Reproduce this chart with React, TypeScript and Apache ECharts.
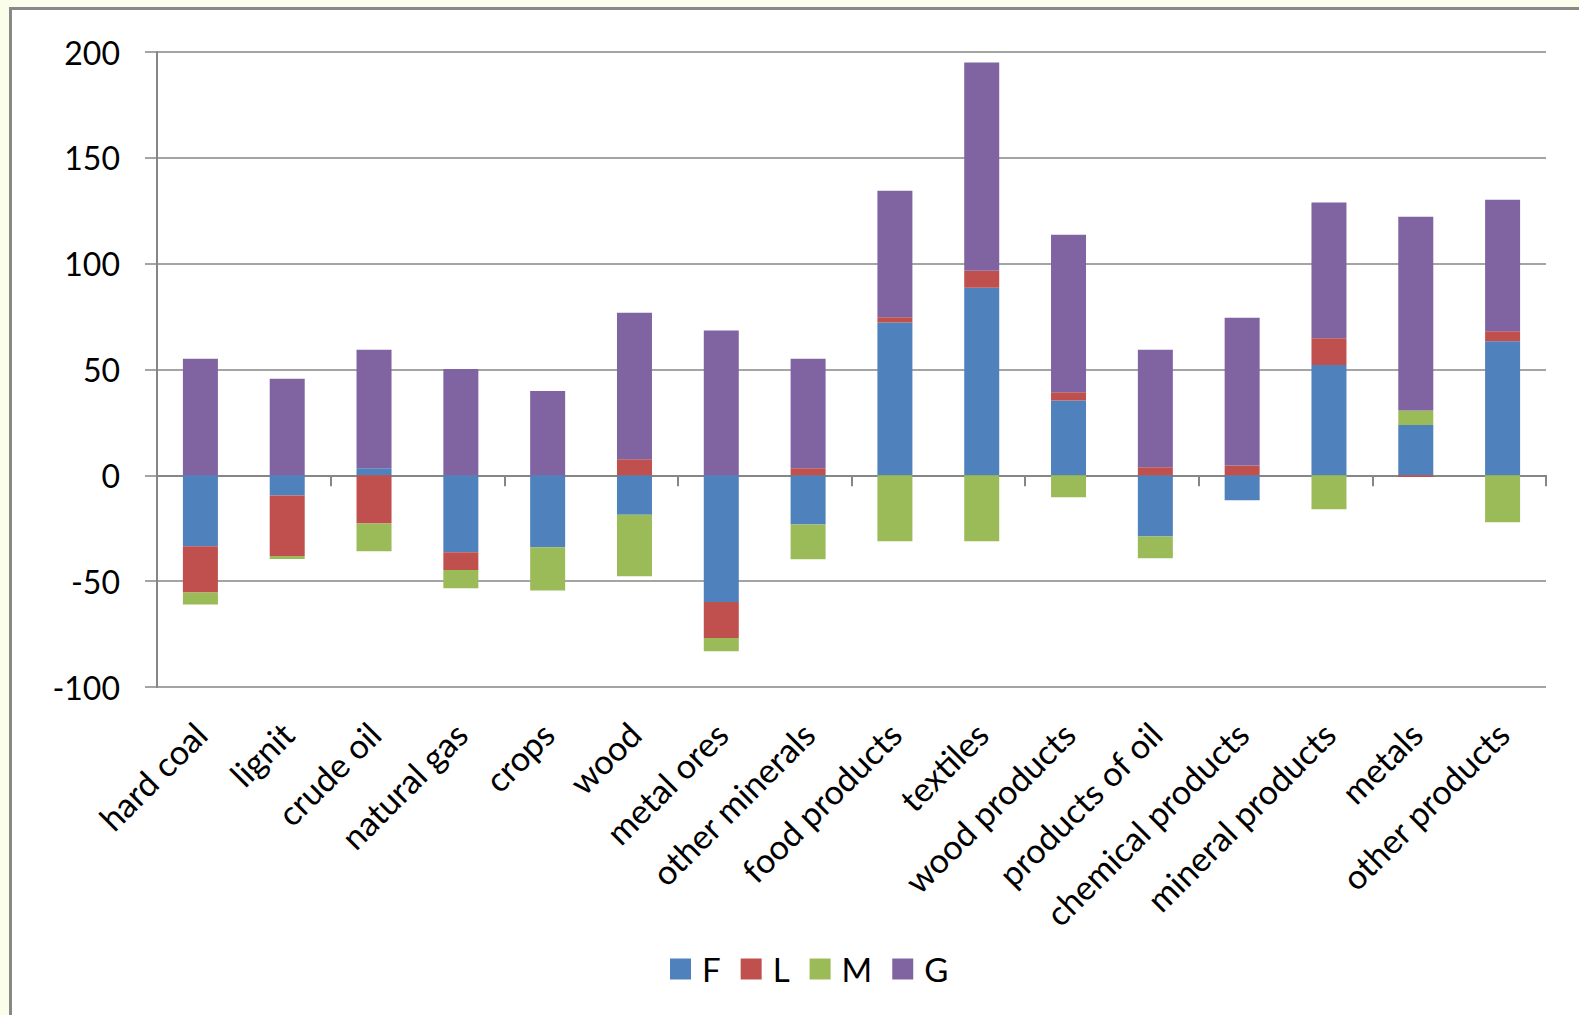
import React, { useEffect, useRef } from "react";
import * as echarts from "echarts";

const categories = [
  "hard coal", "lignit", "crude oil", "natural gas", "crops", "wood", "metal ores",
  "other minerals", "food products", "textiles", "wood products", "products of oil",
  "chemical products", "mineral products", "metals", "other products",
];
const seriesNames = ["F", "L", "M", "G"];
const valuesF = [-33.5, -9.5, 3.4, -36.3, -34.0, -18.6, -59.9, -23.2, 72.2, 88.6, 35.4, -28.9, -11.8, 52.1, 23.8, 63.3];
const valuesL = [-21.8, -28.6, -22.8, -8.4, 0, 7.6, -16.9, 3.4, 2.5, 8.0, 3.8, 3.8, 4.6, 12.7, -0.8, 4.8];
const valuesM = [-5.7, -1.4, -13.1, -8.7, -20.4, -29.1, -6.3, -16.5, -31.2, -31.2, -10.3, -10.3, 0, -16.0, 6.8, -22.2];
const valuesG = [55.1, 45.6, 55.9, 50.2, 39.9, 69.2, 68.4, 51.7, 59.7, 98.4, 74.5, 55.5, 69.9, 64.1, 91.6, 62.1];
const colors = ["#4F81BD", "#C0504D", "#9BBB59", "#8064A2"];
const yMin = -100;
const yMax = 200;
const yInterval = 50;

const FONT = "Lato";
const GRID_COLOR = "#868686";

export default function App() {
  const ref = useRef<HTMLDivElement>(null);
  useEffect(() => {
    document.body.style.margin = "0";
    if (!ref.current) return;
    const chart = echarts.init(ref.current, null, { renderer: "svg" });
    const allValues = [valuesF, valuesL, valuesM, valuesG];
    chart.setOption({
      animation: false,
      textStyle: { fontFamily: FONT },
      grid: { left: 157, right: 33, top: 52, bottom: 328, containLabel: false },
      legend: {
        data: seriesNames,
        left: 665,
        top: 947,
        itemWidth: 21,
        itemHeight: 21,
        itemGap: 20,
        icon: "rect",
        textStyle: { fontFamily: FONT, fontSize: 33, color: "#000", lineHeight: 34, padding: [0, 0, 0, 6] },
      },
      xAxis: [
        {
          type: "category",
          data: categories,
          position: "bottom",
          axisLine: { onZero: true, lineStyle: { color: GRID_COLOR, width: 2 } },
          axisTick: { show: true, length: 11, lineStyle: { color: GRID_COLOR, width: 2 } },
          axisLabel: { show: false },
        },
        {
          type: "category",
          data: categories,
          position: "bottom",
          axisLine: { show: false, onZero: false },
          axisTick: { show: false },
          axisLabel: {
            rotate: 45,
            interval: 0,
            margin: 41,
            fontFamily: FONT,
            fontSize: 34,
            color: "#000",
          },
        },
      ],
      yAxis: {
        type: "value",
        min: yMin,
        max: yMax,
        interval: yInterval,
        axisLine: { show: true, lineStyle: { color: GRID_COLOR, width: 2 } },
        axisTick: { show: true, length: 12, lineStyle: { color: GRID_COLOR, width: 1.5 } },
        splitLine: { lineStyle: { color: GRID_COLOR, width: 1.5 } },
        axisLabel: { margin: 37, fontFamily: FONT, fontSize: 32, color: "#000" },
      },
      series: seriesNames.map((name, i) => ({
        name,
        type: "bar",
        stack: "total",
        xAxisIndex: 0,
        barWidth: 35,
        itemStyle: { color: colors[i] },
        data: allValues[i],
      })),
    });
    return () => chart.dispose();
  }, []);
  return (
    <div style={{ position: "relative", width: 1579, height: 1015, background: "#FAFDE9", overflow: "hidden" }}>
      <div
        style={{
          position: "absolute",
          left: 9,
          top: 7,
          width: 1600,
          height: 1100,
          background: "#fff",
          border: "3px solid #888888",
          boxSizing: "border-box",
        }}
      />
      <div ref={ref} style={{ position: "absolute", left: 0, top: 0, width: 1579, height: 1015 }} />
    </div>
  );
}
